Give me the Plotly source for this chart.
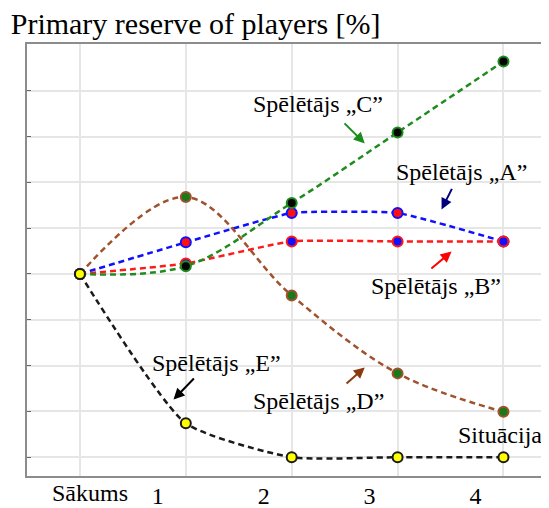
import plotly.graph_objects as go

# x positions: start + four situations
steps = [0, 1, 2, 3, 4]
step_labels = ["Sākums", "1", "2", "3", "4"]

# primary reserve of each player, %
player_a = [100, 106.9, 113.3, 113.3, 107.1]
player_b = [100, 102.3, 107.1, 107.1, 107.1]
player_c = [100, 101.7, 115.5, 130.9, 146.4]
player_d = [100, 116.8, 95.3, 78.3, 69.9]
player_e = [100, 67.4, 60, 60, 60]

SERIF = "Liberation Serif"

fig = go.Figure()

# (values, line colour, marker fill, marker edge, smoothing) -- drawn in this order
series = [
    (player_a, "#1010ff", "#ff1010", "#1010ff", 0.4),
    (player_b, "#ff1a1a", "#1010ff", "#ff1a1a", 0.5),
    (player_d, "#a0522d", "#1a7a1a", "#a0522d", 1.0),
    (player_c, "#1e8c1e", "#050505", "#1e8c1e", 1.0),
    (player_e, "#1a1a1a", "#ffff00", "#1a1a1a", 0.55),
]
for vals, lc, fill, edge, sm in series:
    fig.add_trace(go.Scatter(
        x=steps, y=vals, mode="lines+markers",
        line=dict(color=lc, width=2.5, dash="6px,4px", shape="spline", smoothing=sm),
        marker=dict(size=10, color=fill, line=dict(color=edge, width=2)),
        showlegend=False, hoverinfo="skip",
    ))

# labels and arrows (text pos, arrow tail, arrow head, colour)
callouts = [
    ("Spēlētājs „C”", (2.25, 137.2), (2.485, 133.2), (2.69, 128.5), "#1a8c1a"),
    ("Spēlētājs „A”", (3.60, 122.2), (3.52, 118.9), (3.415, 114.1), "#00007f"),
    ("Spēlētājs „B”", (3.36, 97.4), (3.305, 100.9), (3.51, 104.9), "#ff0000"),
    ("Spēlētājs „E”", (1.29, 80.5), (1.09, 77.5), (0.884, 72.6), "#000000"),
    ("Spēlētājs „D”", (2.25, 72.3), (2.504, 75.8), (2.69, 79.6), "#8b3a0f"),
]
for text, (tx, ty), (ax, ay), (hx, hy), col in callouts:
    fig.add_annotation(x=tx, y=ty, text=text, showarrow=False,
                       font=dict(family=SERIF, size=24, color="black"))
    fig.add_annotation(x=hx, y=hy, ax=ax, ay=ay, axref="x", ayref="y",
                       text="", showarrow=True, arrowhead=2, arrowsize=1.1,
                       arrowwidth=2, arrowcolor=col)

fig.add_annotation(x=3.97, y=64.8, text="Situācija", showarrow=False,
                   font=dict(family=SERIF, size=24, color="black"))
fig.add_annotation(x=steps[0], y=0, yref="paper", text=step_labels[0],
                   showarrow=False, xshift=10, yshift=-17, yanchor="middle",
                   font=dict(family=SERIF, size=24, color="black"))

fig.update_xaxes(
    range=[-0.5, 4.43], tickvals=steps, ticktext=[""] + step_labels[1:],
    ticklabelshift=-28, ticks="", ticklabelstandoff=-3, automargin=False,
    showgrid=True, gridcolor="#e6e6e6", gridwidth=1.5,
    showline=True, linecolor="#8c8c8c", linewidth=1.5, mirror=True,
    zeroline=False, tickfont=dict(family=SERIF, size=24, color="black"),
)
fig.update_yaxes(
    range=[55.9, 150.2], dtick=10, tick0=60, showticklabels=False,
    ticks="inside", ticklen=4, tickcolor="#666666", automargin=False,
    showgrid=True, gridcolor="#e6e6e6", gridwidth=1.5,
    showline=True, linecolor="#8c8c8c", linewidth=1.5,
    zeroline=False,
)
# page body has an 8px margin, so the figure is sized to fit what is left
fig.update_layout(
    width=541, height=500,
    margin=dict(l=19, r=0, t=36, b=32, autoexpand=False),
    paper_bgcolor="white", plot_bgcolor="white",
    title=dict(text="Primary reserve of players [%]", x=0.005, xanchor="left",
               y=0.97, yanchor="middle", automargin=False,
               font=dict(family=SERIF, size=30, color="black")),
)

fig.write_html("out.html")
